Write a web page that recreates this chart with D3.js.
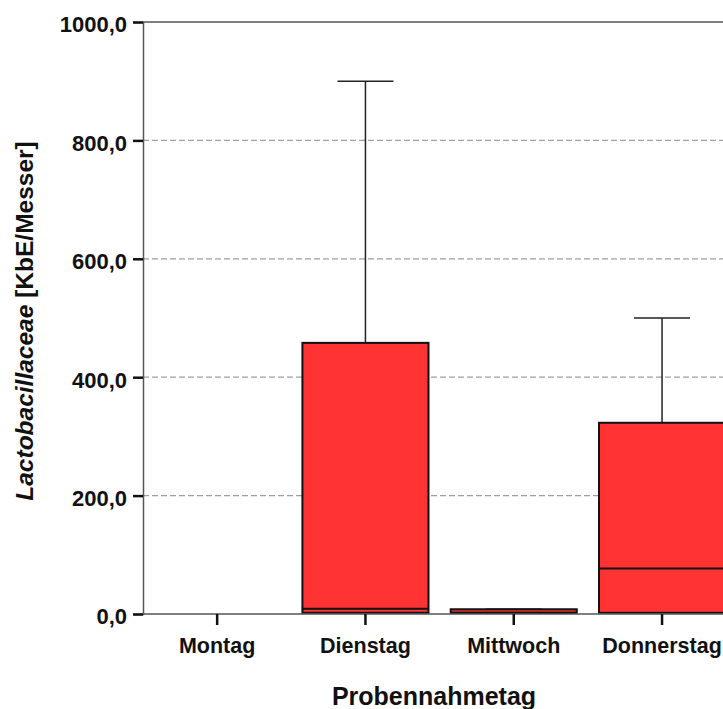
<!DOCTYPE html>
<html>
<head>
<meta charset="utf-8">
<script src="https://cdn.jsdelivr.net/npm/d3@7/dist/d3.min.js"></script>
<style>
  html, body { margin: 0; padding: 0; background: #fff; }
  svg { display: block; }
  text { font-family: "Liberation Sans", Arial, sans-serif; font-weight: bold; fill: #111; }
</style>
</head>
<body>
<svg id="chart" width="723" height="709"></svg>
<script>
// Sampling days and box-plot statistics (KbE per knife)
const days    = ["Montag", "Dienstag", "Mittwoch", "Donnerstag"];
const minimum = [null, 0,   0, 0];
const q1      = [null, 2,   2, 2];
const median  = [null, 9,   2, 77];
const q3      = [null, 458, 8, 323];
const maximum = [null, 900, 8, 500];
const yTicks  = [0, 200, 400, 600, 800, 1000];

const rows = days.map((d, i) => ({
  day: d, min: minimum[i], q1: q1[i], med: median[i], q3: q3[i], max: maximum[i]
})).filter(r => r.q1 !== null);

const svg = d3.select("#chart");
const W = 723;
const plotLeft = 143, plotTop = 22, plotBottom = 614;
const band = 148.3;

const x = d3.scaleBand()
  .domain(days)
  .range([plotLeft, plotLeft + band * days.length])
  .paddingInner(0).paddingOuter(0);

const y = d3.scaleLinear().domain([0, 1000]).range([plotBottom, plotTop]);

const locale = d3.formatLocale({ decimal: ",", thousands: ".", grouping: [3], currency: ["", " €"] });
const fmt = locale.format(".1f");

// dashed grid lines
svg.append("g")
  .selectAll("line")
  .data(yTicks.filter(t => t > 0 && t < 1000))
  .join("line")
  .attr("x1", plotLeft).attr("x2", W)
  .attr("y1", d => y(d)).attr("y2", d => y(d))
  .attr("stroke", "#a0a0a0")
  .attr("stroke-width", 1.3)
  .attr("stroke-dasharray", "6,3");

// plot frame: top border
svg.append("line")
  .attr("x1", plotLeft).attr("x2", W)
  .attr("y1", y(1000)).attr("y2", y(1000))
  .attr("stroke", "#555").attr("stroke-width", 1.5);

const boxW = x.bandwidth() * 0.85;
const capW = 56;
const g = svg.append("g");

rows.forEach(r => {
  const cx = x(r.day) + x.bandwidth() / 2;
  // whiskers
  g.append("line")
    .attr("x1", cx).attr("x2", cx)
    .attr("y1", y(r.q3)).attr("y2", y(r.max))
    .attr("stroke", "#222").attr("stroke-width", 1.5);
  g.append("line")
    .attr("x1", cx - capW / 2).attr("x2", cx + capW / 2)
    .attr("y1", y(r.max)).attr("y2", y(r.max))
    .attr("stroke", "#222").attr("stroke-width", 1.5);
  // box
  g.append("rect")
    .attr("x", cx - boxW / 2)
    .attr("width", boxW)
    .attr("y", y(r.q3))
    .attr("height", y(r.q1) - y(r.q3))
    .attr("fill", "#ff3333")
    .attr("stroke", "#111")
    .attr("stroke-width", 2);
  // median
  g.append("line")
    .attr("x1", cx - boxW / 2).attr("x2", cx + boxW / 2)
    .attr("y1", y(r.med)).attr("y2", y(r.med))
    .attr("stroke", "#111").attr("stroke-width", 2);
});

// y axis
const yAxis = svg.append("g")
  .attr("transform", `translate(${plotLeft},0)`)
  .call(d3.axisLeft(y).tickValues(yTicks).tickFormat(fmt).tickSize(10).tickPadding(6));
yAxis.select(".domain").attr("stroke", "#555").attr("stroke-width", 1.5);
yAxis.selectAll(".tick line").attr("stroke", "#111").attr("stroke-width", 2.5);
yAxis.selectAll(".tick text")
  .attr("dy", "0.45em")
  .style("font-size", "22px")
  .style("font-family", "'Liberation Sans', Arial, sans-serif")
  .style("font-weight", "bold")
  .attr("fill", "#111");

// x axis
const xAxis = svg.append("g")
  .attr("transform", `translate(0,${plotBottom})`)
  .call(d3.axisBottom(x).tickSize(11).tickPadding(13));
xAxis.select(".domain").attr("stroke", "#555").attr("stroke-width", 1.5).attr("d", `M${plotLeft},0H${W}`);
xAxis.selectAll(".tick line").attr("stroke", "#111").attr("stroke-width", 2.5);
xAxis.selectAll(".tick text")
  .style("font-size", "21.5px")
  .style("font-family", "'Liberation Sans', Arial, sans-serif")
  .style("font-weight", "bold")
  .attr("fill", "#111");

// axis titles
svg.append("text")
  .attr("x", 434).attr("y", 705)
  .attr("text-anchor", "middle")
  .style("font-size", "25px")
  .text("Probennahmetag");

const yt = svg.append("text")
  .attr("transform", "translate(33,321) rotate(-90)")
  .attr("text-anchor", "middle")
  .style("font-size", "24.5px");
yt.append("tspan").style("font-style", "italic").text("Lactobacillaceae");
yt.append("tspan").text(" [KbE/Messer]");
</script>
</body>
</html>
